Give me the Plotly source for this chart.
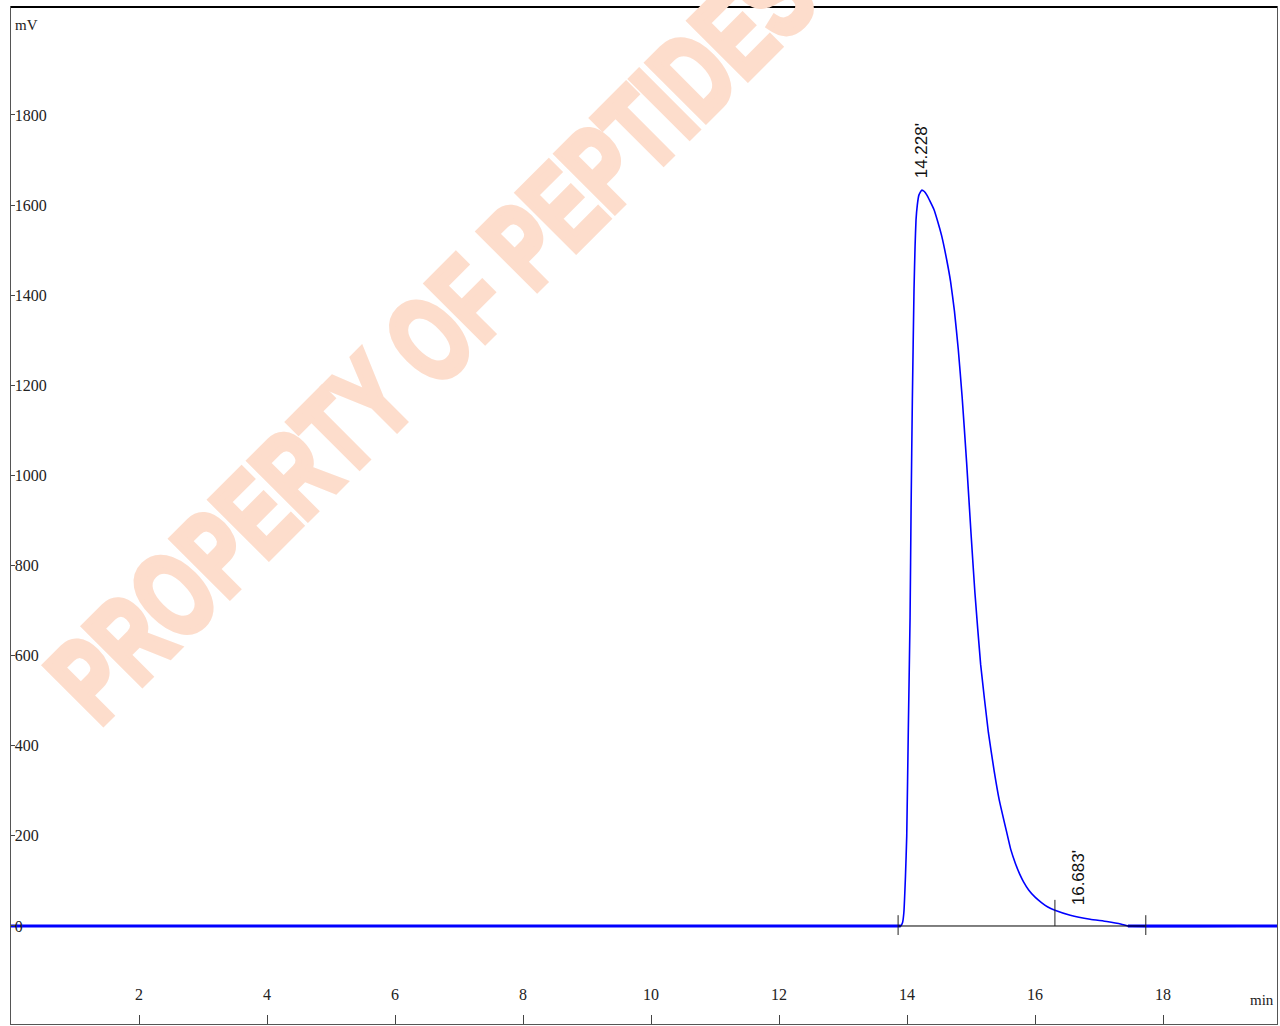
import plotly.graph_objects as go

# ---------------- data ----------------
time_min = [0.0, 13.86, 13.90, 13.93, 13.95, 13.975, 13.995, 14.02, 14.047, 14.063,
            14.083, 14.109, 14.125, 14.14, 14.16, 14.185, 14.228, 14.27, 14.31, 14.36,
            14.42, 14.48, 14.54, 14.62, 14.68, 14.74, 14.80, 14.86, 14.93, 15.0,
            15.06, 15.15, 15.27, 15.36, 15.44, 15.56, 15.62, 15.69, 15.76, 15.82,
            15.9, 16.0, 16.1, 16.2, 16.31, 16.55, 16.86, 17.12, 17.35, 17.45, 19.78]
signal_mv = [0, 0, 0, 8, 30, 110, 200, 440, 684, 928,
             1170, 1414, 1508, 1567, 1600, 1622, 1633, 1630, 1622, 1608,
             1590, 1563, 1532, 1478, 1430, 1365, 1280, 1175, 1030, 870,
             740, 580, 430, 345, 280, 206, 170, 140, 115, 98,
             80, 64, 52, 42, 35, 24, 15, 10, 4, 0, 0]

peak_rt = [14.228, 16.683]
peak_labels = ["14.228'", "16.683'"]
peak_label_y = [1633, 20]

boundary_rt = [13.86, 16.31, 17.73]
boundary_top = [24, 58, 24]
boundary_bottom = [-20, 0, -20]

x_ticks = [2, 4, 6, 8, 10, 12, 14, 16, 18]
y_ticks = [-200, 0, 200, 400, 600, 800, 1000, 1200, 1400, 1600, 1800]

X_RANGE = [0, 19.78]
Y_RANGE = [-217.5, 2039.5]

WATERMARK = "PROPERTY OF PEPTIDES"
WM_COLOR = "#FDDDCC"

# baseline segments (signal == 0) drawn a bit thicker, as in the original
base_x, base_y = [], []
for i in range(len(time_min) - 1):
    if signal_mv[i] == 0 and signal_mv[i + 1] == 0:
        base_x += [time_min[i], time_min[i + 1], None]
        base_y += [0, 0, None]

fig = go.Figure()
fig.add_trace(go.Scatter(x=time_min, y=signal_mv, mode="lines",
                         line=dict(color="#0000FF", width=1.6, shape="spline", smoothing=0.4),
                         hoverinfo="skip"))
fig.add_trace(go.Scatter(x=base_x, y=base_y, mode="lines",
                         line=dict(color="#0000FF", width=3), hoverinfo="skip"))

shapes = []
# integration baseline
shapes.append(dict(type="line", xref="x", yref="y", x0=boundary_rt[0], x1=boundary_rt[-1],
                   y0=0, y1=0, line=dict(color="black", width=1), layer="above"))
for bx, bt, bb in zip(boundary_rt, boundary_top, boundary_bottom):
    shapes.append(dict(type="line", xref="x", yref="y", x0=bx, x1=bx, y0=bb, y1=bt,
                       line=dict(color="#222", width=1)))
# top frame line (darker)
shapes.append(dict(type="line", xref="paper", yref="paper", x0=0, x1=1, y0=1, y1=1,
                   line=dict(color="black", width=2)))

annotations = []
annotations.append(dict(text=WATERMARK, xref="paper", yref="paper",
                        x=0.3318, y=0.6755, xanchor="center", yanchor="middle",
                        textangle=-45, showarrow=False,
                        font=dict(family="Liberation Sans, Arial, sans-serif",
                                  size=118, color=WM_COLOR, weight="bold")))
for rt, lab, ly in zip(peak_rt, peak_labels, peak_label_y):
    annotations.append(dict(text=lab, x=rt, y=ly, xref="x", yref="y",
                            textangle=-90, showarrow=False, xanchor="center", yanchor="bottom",
                            yshift=10,
                            font=dict(family="Liberation Sans, Arial, sans-serif", size=17, color="#111")))
annotations.append(dict(text="mV", xref="paper", yref="paper", x=0, y=1, xanchor="left",
                        yanchor="middle", xshift=2, yshift=-18, showarrow=False,
                        font=dict(family="Liberation Serif, serif", size=15, color="#222")))
annotations.append(dict(text="min", xref="paper", yref="paper", x=1, y=0, xanchor="right",
                        yanchor="middle", xshift=-1, yshift=24, showarrow=False,
                        font=dict(family="Liberation Serif, serif", size=15, color="#222")))

tickfont = dict(family="Liberation Serif, serif", size=16, color="#222")
fig.update_layout(
    width=1280, height=1026, autosize=False,
    margin=dict(l=11, r=3, t=7, b=2, pad=0),
    paper_bgcolor="white", plot_bgcolor="white",
    showlegend=False,
    shapes=shapes, annotations=annotations,
    xaxis=dict(range=X_RANGE, tickvals=x_ticks, ticktext=[str(v) for v in x_ticks],
               ticks="inside", ticklen=9, tickcolor="#444", tickwidth=1,
               ticklabelposition="inside", ticklabelstandoff=12, tickfont=tickfont,
               showline=True, linecolor="#555", linewidth=1, mirror=True,
               showgrid=False, zeroline=False, fixedrange=True),
    yaxis=dict(range=Y_RANGE, tickvals=y_ticks, ticktext=[str(v) for v in y_ticks],
               ticks="inside", ticklen=4, tickcolor="#444", tickwidth=1,
               ticklabelposition="inside", tickfont=tickfont,
               showline=True, linecolor="#555", linewidth=1, mirror=True,
               showgrid=False, zeroline=False, fixedrange=True),
)

# condense the watermark lettering (narrow, heavy poster type as in the original)
post_js = """
document.body.style.margin='0';
document.body.style.overflow='hidden';
(function(){
  var anns = document.querySelectorAll('g.annotation');
  anns.forEach(function(a){
    if ((a.textContent||'').indexOf('PROPERTY') !== 0) return;
    var g = a.querySelector('g.annotation-text-g');
    if (!g) return;
    var t = a.querySelector('text');
    if (t) {
      t.style.stroke = '%s';
      t.style.strokeWidth = '7px';
      t.style.strokeLinejoin = 'miter';
    }
    var bb = g.getBBox();
    var cx = bb.x + bb.width/2, cy = bb.y + bb.height/2;
    var tr = g.getAttribute('transform') || '';
    g.setAttribute('transform', tr + ' translate(' + cx + ',' + cy + ') scale(0.70,1) translate(' + (-cx) + ',' + (-cy) + ')');
  });
})();
""" % WM_COLOR

fig.write_html("out.html", config={"displayModeBar": False}, post_script=post_js)
